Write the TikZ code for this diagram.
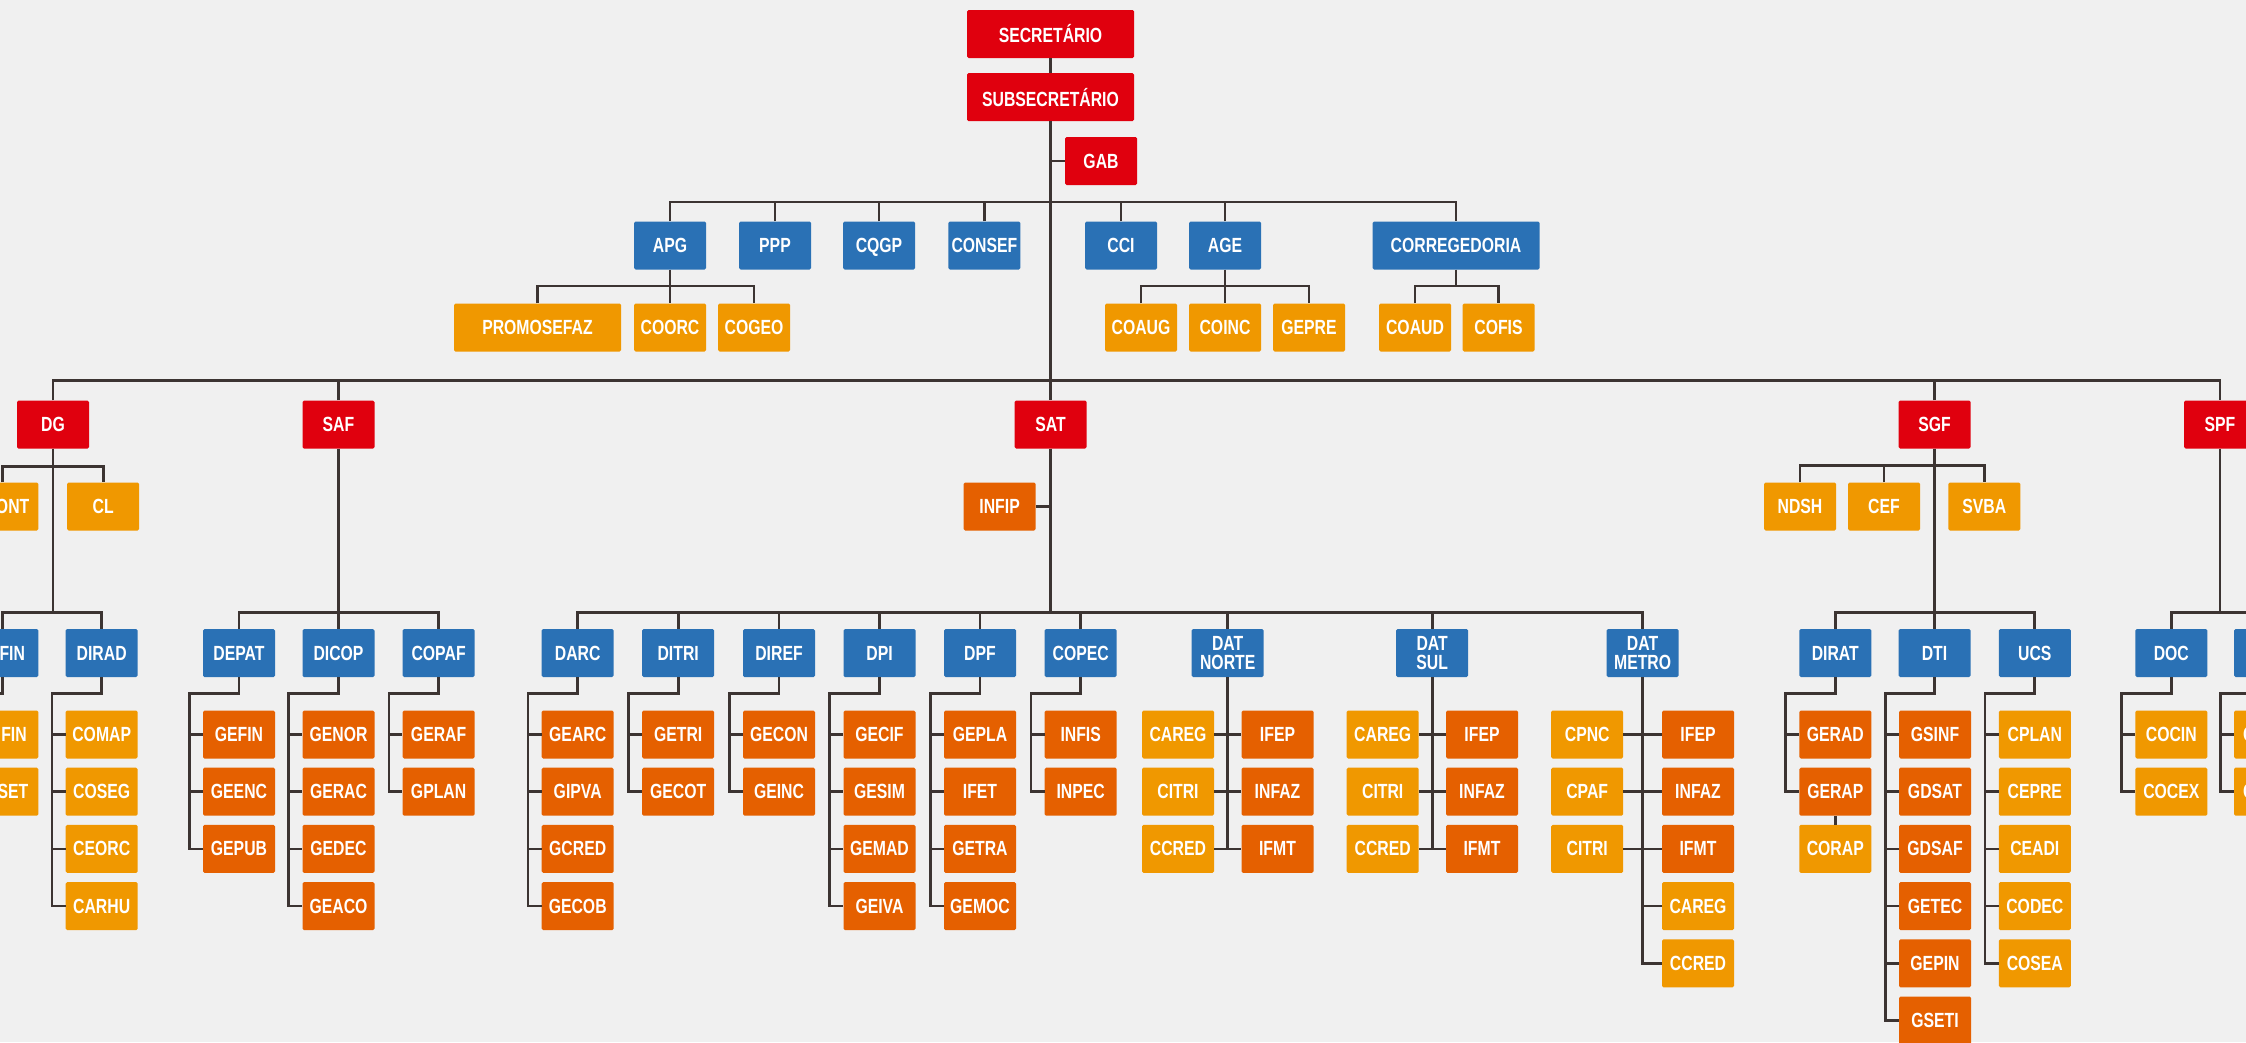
\documentclass[tikz,border=0pt]{standalone}
\usepackage{fontspec}
\setmainfont{Liberation Sans}[FakeStretch=0.77]
\definecolor{secred}{RGB}{224,0,14}
\definecolor{dirblue}{RGB}{42,113,181}
\definecolor{coorange}{RGB}{240,152,0}
\definecolor{gerorange}{RGB}{229,96,0}
\definecolor{linegray}{RGB}{60,52,50}
\definecolor{bgcol}{RGB}{240,240,240}
\tikzset{
  box/.style={rectangle, rounded corners=1.5pt, minimum width=72pt, minimum height=48pt, inner sep=0pt, align=center, text=white, font=\bfseries\fontsize{20.5}{19.6}\selectfont},
  wide/.style={minimum width=167pt},
  redbox/.style={box, fill=secred},
  bluebox/.style={box, fill=dirblue},
  darkbox/.style={box, fill=gerorange},
  lightbox/.style={box, fill=coorange},
  conn/.style={draw=linegray, line width=2.7pt}
}

\begin{document}
\begin{tikzpicture}[x=1pt, y=-1pt]
 \path[use as bounding box, fill=bgcol] (0,0) rectangle (2246,1042);
 \clip (0,0) rectangle (2246,1042);

 \node[redbox, wide] (sec) at (1050.5,34) {SECRETÁRIO};
 \node[redbox, wide] (subsec) at (1050.5,97.2) {SUBSECRETÁRIO};
 \node[redbox] (gab) at (1101,161) {GAB};

 \node[bluebox] (apg) at (670,245.5) {APG};
 \node[bluebox] (ppp) at (775,245.5) {PPP};
 \node[bluebox, text depth=0pt] (cqgp) at (879,245.5) {CQGP};
 \node[bluebox] (consef) at (984.4,245.5) {CONSEF};
 \node[bluebox] (cci) at (1121,245.5) {CCI};
 \node[bluebox] (age) at (1225,245.5) {AGE};
 \node[bluebox, wide] (correg) at (1456,245.5) {CORREGEDORIA};

 \node[lightbox, wide] (promosefaz) at (537.5,327.5) {PROMOSEFAZ};
 \node[lightbox] (coorc) at (670,327.5) {COORC};
 \node[lightbox] (cogeo) at (754,327.5) {COGEO};
 \node[lightbox] (coaug) at (1141,327.5) {COAUG};
 \node[lightbox] (coinc) at (1225,327.5) {COINC};
 \node[lightbox] (gepre) at (1309,327.5) {GEPRE};
 \node[lightbox] (coaud) at (1415,327.5) {COAUD};
 \node[lightbox] (cofis) at (1498.5,327.5) {COFIS};

 \node[redbox] (dg) at (53,424.5) {DG};
 \node[redbox] (saf) at (338.5,424.5) {SAF};
 \node[redbox] (sat) at (1050.5,424.5) {SAT};
 \node[redbox] (sgf) at (1934.5,424.5) {SGF};
 \node[redbox] (spf) at (2220,424.5) {SPF};

 \node[lightbox, text width=54pt, align=right] (cont) at (2.3,506.5) {ONT};
 \node[lightbox] (cl) at (103.2,506.5) {CL};
 \node[darkbox] (infip) at (999.6,506.5) {INFIP};
 \node[lightbox] (ndsh) at (1800,506.5) {NDSH};
 \node[lightbox] (cef) at (1884,506.5) {CEF};
 \node[lightbox] (svba) at (1984.3,506.5) {SVBA};

 \node[bluebox, text width=45.4pt, align=right] (difin) at (2.3,653) {FIN};
 \node[bluebox] (dirad) at (101.7,653) {DIRAD};
 \node[bluebox] (depat) at (239,653) {DEPAT};
 \node[bluebox] (dicop) at (338.5,653) {DICOP};
 \node[bluebox] (copaf) at (438.6,653) {COPAF};
 \node[bluebox] (darc) at (577.7,653) {DARC};
 \node[bluebox] (ditri) at (678.2,653) {DITRI};
 \node[bluebox] (diref) at (779,653) {DIREF};
 \node[bluebox] (dpi) at (879.5,653) {DPI};
 \node[bluebox] (dpf) at (980,653) {DPF};
 \node[bluebox] (copec) at (1080.7,653) {COPEC};
 \node[bluebox] (datnorte) at (1227.7,653) {DAT\\NORTE};
 \node[bluebox] (datsul) at (1432.2,653) {DAT\\SUL};
 \node[bluebox] (datmetro) at (1642.6,653) {DAT\\METRO};
 \node[bluebox] (dirat) at (1835.3,653) {DIRAT};
 \node[bluebox] (dti) at (1934.5,653) {DTI};
 \node[bluebox] (ucs) at (2034.8,653) {UCS};
 \node[bluebox] (doc) at (2171.3,653) {DOC};
 \node[bluebox] (spfb) at (2270,653) {};

 \node[lightbox, text width=48.8pt, align=right] (cofin) at (2.3,734.5) {FIN};
 \node[lightbox, text width=52pt, align=right] (coset) at (2.3,791.7) {SET};

 \node[lightbox] (comap) at (101.7,734.5) {COMAP};
 \node[lightbox] (coseg) at (101.7,791.7) {COSEG};
 \node[lightbox] (ceorc) at (101.7,848.9) {CEORC};
 \node[lightbox] (carhu) at (101.7,906.1) {CARHU};

 \node[darkbox] (gefin) at (239,734.5) {GEFIN};
 \node[darkbox] (geenc) at (239,791.7) {GEENC};
 \node[darkbox] (gepub) at (239,848.9) {GEPUB};

 \node[darkbox] (genor) at (338.5,734.5) {GENOR};
 \node[darkbox] (gerac) at (338.5,791.7) {GERAC};
 \node[darkbox] (gedec) at (338.5,848.9) {GEDEC};
 \node[darkbox] (geaco) at (338.5,906.1) {GEACO};

 \node[darkbox] (geraf) at (438.6,734.5) {GERAF};
 \node[darkbox] (gplan) at (438.6,791.7) {GPLAN};

 \node[darkbox] (gearc) at (577.7,734.5) {GEARC};
 \node[darkbox] (gipva) at (577.7,791.7) {GIPVA};
 \node[darkbox] (gcred) at (577.7,848.9) {GCRED};
 \node[darkbox] (gecob) at (577.7,906.1) {GECOB};

 \node[darkbox] (getri) at (678.2,734.5) {GETRI};
 \node[darkbox] (gecot) at (678.2,791.7) {GECOT};

 \node[darkbox] (gecon) at (779,734.5) {GECON};
 \node[darkbox] (geinc) at (779,791.7) {GEINC};

 \node[darkbox] (gecif) at (879.5,734.5) {GECIF};
 \node[darkbox] (gesim) at (879.5,791.7) {GESIM};
 \node[darkbox] (gemad) at (879.5,848.9) {GEMAD};
 \node[darkbox] (geiva) at (879.5,906.1) {GEIVA};

 \node[darkbox] (gepla) at (980,734.5) {GEPLA};
 \node[darkbox] (ifet) at (980,791.7) {IFET};
 \node[darkbox] (getra) at (980,848.9) {GETRA};
 \node[darkbox] (gemoc) at (980,906.1) {GEMOC};

 \node[darkbox] (infis) at (1080.7,734.5) {INFIS};
 \node[darkbox] (inpec) at (1080.7,791.7) {INPEC};

 \node[lightbox] (ncareg) at (1178,734.5) {CAREG};
 \node[lightbox] (ncitri) at (1178,791.7) {CITRI};
 \node[lightbox] (nccred) at (1178,848.9) {CCRED};
 \node[darkbox] (nifep) at (1277.5,734.5) {IFEP};
 \node[darkbox] (ninfaz) at (1277.5,791.7) {INFAZ};
 \node[darkbox] (nifmt) at (1277.5,848.9) {IFMT};

 \node[lightbox] (scareg) at (1382.7,734.5) {CAREG};
 \node[lightbox] (scitri) at (1382.7,791.7) {CITRI};
 \node[lightbox] (sccred) at (1382.7,848.9) {CCRED};
 \node[darkbox] (sifep) at (1482,734.5) {IFEP};
 \node[darkbox] (sinfaz) at (1482,791.7) {INFAZ};
 \node[darkbox] (sifmt) at (1482,848.9) {IFMT};

 \node[lightbox] (mcpnc) at (1587.2,734.5) {CPNC};
 \node[lightbox] (mcpaf) at (1587.2,791.7) {CPAF};
 \node[lightbox] (mcitri) at (1587.2,848.9) {CITRI};
 \node[darkbox] (mifep) at (1698,734.5) {IFEP};
 \node[darkbox] (minfaz) at (1698,791.7) {INFAZ};
 \node[darkbox] (mifmt) at (1698,848.9) {IFMT};
 \node[lightbox] (mcareg) at (1698,906.1) {CAREG};
 \node[lightbox] (mccred) at (1698,963.3) {CCRED};

 \node[darkbox] (gerad) at (1835.3,734.5) {GERAD};
 \node[darkbox] (gerap) at (1835.3,791.7) {GERAP};
 \node[lightbox] (corap) at (1835.3,848.9) {CORAP};

 \node[darkbox] (gsinf) at (1935,734.5) {GSINF};
 \node[darkbox] (gdsat) at (1935,791.7) {GDSAT};
 \node[darkbox] (gdsaf) at (1935,848.9) {GDSAF};
 \node[darkbox] (getec) at (1935,906.1) {GETEC};
 \node[darkbox] (gepin) at (1935,963.3) {GEPIN};
 \node[darkbox] (gseti) at (1935,1020.5) {GSETI};

 \node[lightbox] (cplan) at (2034.8,734.5) {CPLAN};
 \node[lightbox] (cepre) at (2034.8,791.7) {CEPRE};
 \node[lightbox] (ceadi) at (2034.8,848.9) {CEADI};
 \node[lightbox] (codec) at (2034.8,906.1) {CODEC};
 \node[lightbox] (cosea) at (2034.8,963.3) {COSEA};

 \node[lightbox] (cocin) at (2171.3,734.5) {COCIN};
 \node[lightbox] (cocex) at (2171.3,791.7) {COCEX};
 \node[lightbox, text width=54pt, align=left] (spfca) at (2270,734.5) {C};
 \node[lightbox, text width=54pt, align=left] (spfcb) at (2270,791.7) {C};

 \draw[conn] (sec.south) -- (subsec.north);
 \draw[conn] (subsec.south) -- (sat.north);
 \draw[conn] (gab.west) -- (gab.west -| subsec.south);
 \draw[conn] (apg.north) -- ++(0,-19.4) -| (correg.north);
 \draw[conn] (ppp.north) -- ++(0,-19.4);
 \draw[conn] (cqgp.north) -- ++(0,-19.4);
 \draw[conn] (consef.north) -- ++(0,-19.4);
 \draw[conn] (cci.north) -- ++(0,-19.4);
 \draw[conn] (age.north) -- ++(0,-19.4);
 \draw[conn] (apg.south) -- (coorc.north);
 \draw[conn] (promosefaz.north) -- ++(0,-17.3) -| (cogeo.north);
 \draw[conn] (age.south) -- (coinc.north);
 \draw[conn] (coaug.north) -- ++(0,-17.3) -| (gepre.north);
 \draw[conn] (correg.south) -- ++(0,16.7);
 \draw[conn] (coaud.north) -- ++(0,-17.3) -| (cofis.north);

 \draw[conn] (dg.north) -- ++(0,-19.5) -| (spf.north);
 \draw[conn] (saf.north) -- ++(0,-19.5);
 \draw[conn] (sgf.north) -- ++(0,-19.5);

 \draw[conn] (cont.north) -- ++(0,-16) -| (cl.north);
 \draw[conn] (dg.south) -- ++(0,164.2);
 \draw[conn] (difin.north) -- ++(0,-16.3) -| (dirad.north);
 \draw[conn] (difin.south) -- ++(0,16.2) -| ([xshift=-13.5pt]coset.west) -- (coset.west);
 \draw[conn] ([xshift=-13.5pt]cofin.west) -- (cofin.west);
 \draw[conn] (dirad.south) -- ++(0,16.2) -| ([xshift=-13.5pt]carhu.west) -- (carhu.west);
 \draw[conn] ([xshift=-13.5pt]comap.west) -- (comap.west);
 \draw[conn] ([xshift=-13.5pt]coseg.west) -- (coseg.west);
 \draw[conn] ([xshift=-13.5pt]ceorc.west) -- (ceorc.west);

 \draw[conn] (saf.south) -- (dicop.north);
 \draw[conn] (depat.north) -- ++(0,-16.3) -| (copaf.north);
 \draw[conn] (depat.south) -- ++(0,16.2) -| ([xshift=-13.5pt]gepub.west) -- (gepub.west);
 \draw[conn] ([xshift=-13.5pt]gefin.west) -- (gefin.west);
 \draw[conn] ([xshift=-13.5pt]geenc.west) -- (geenc.west);
 \draw[conn] (dicop.south) -- ++(0,16.2) -| ([xshift=-13.5pt]geaco.west) -- (geaco.west);
 \draw[conn] ([xshift=-13.5pt]genor.west) -- (genor.west);
 \draw[conn] ([xshift=-13.5pt]gerac.west) -- (gerac.west);
 \draw[conn] ([xshift=-13.5pt]gedec.west) -- (gedec.west);
 \draw[conn] (copaf.south) -- ++(0,16.2) -| ([xshift=-13.5pt]gplan.west) -- (gplan.west);
 \draw[conn] ([xshift=-13.5pt]geraf.west) -- (geraf.west);

 \draw[conn] (infip.east) -- (infip.east -| sat.south);
 \draw[conn] (sat.south) -- ++(0,164.2);
 \draw[conn] (darc.north) -- ++(0,-16.3) -| (datmetro.north);
 \draw[conn] (ditri.north) -- ++(0,-16.3);
 \draw[conn] (diref.north) -- ++(0,-16.3);
 \draw[conn] (dpi.north) -- ++(0,-16.3);
 \draw[conn] (dpf.north) -- ++(0,-16.3);
 \draw[conn] (copec.north) -- ++(0,-16.3);
 \draw[conn] (datnorte.north) -- ++(0,-16.3);
 \draw[conn] (datsul.north) -- ++(0,-16.3);
 \draw[conn] (darc.south) -- ++(0,16.2) -| ([xshift=-13.5pt]gecob.west) -- (gecob.west);
 \draw[conn] ([xshift=-13.5pt]gearc.west) -- (gearc.west);
 \draw[conn] ([xshift=-13.5pt]gipva.west) -- (gipva.west);
 \draw[conn] ([xshift=-13.5pt]gcred.west) -- (gcred.west);
 \draw[conn] (ditri.south) -- ++(0,16.2) -| ([xshift=-13.5pt]gecot.west) -- (gecot.west);
 \draw[conn] ([xshift=-13.5pt]getri.west) -- (getri.west);
 \draw[conn] (diref.south) -- ++(0,16.2) -| ([xshift=-13.5pt]geinc.west) -- (geinc.west);
 \draw[conn] ([xshift=-13.5pt]gecon.west) -- (gecon.west);
 \draw[conn] (dpi.south) -- ++(0,16.2) -| ([xshift=-13.5pt]geiva.west) -- (geiva.west);
 \draw[conn] ([xshift=-13.5pt]gecif.west) -- (gecif.west);
 \draw[conn] ([xshift=-13.5pt]gesim.west) -- (gesim.west);
 \draw[conn] ([xshift=-13.5pt]gemad.west) -- (gemad.west);
 \draw[conn] (dpf.south) -- ++(0,16.2) -| ([xshift=-13.5pt]gemoc.west) -- (gemoc.west);
 \draw[conn] ([xshift=-13.5pt]gepla.west) -- (gepla.west);
 \draw[conn] ([xshift=-13.5pt]ifet.west) -- (ifet.west);
 \draw[conn] ([xshift=-13.5pt]getra.west) -- (getra.west);
 \draw[conn] (copec.south) -- ++(0,16.2) -| ([xshift=-13.5pt]inpec.west) -- (inpec.west);
 \draw[conn] ([xshift=-13.5pt]infis.west) -- (infis.west);

 \draw[conn] (datnorte.south) -- (datnorte.south |- nccred.east);
 \draw[conn] (ncareg.east) -- (nifep.west);
 \draw[conn] (ncitri.east) -- (ninfaz.west);
 \draw[conn] (nccred.east) -- (nifmt.west);
 \draw[conn] (datsul.south) -- (datsul.south |- sccred.east);
 \draw[conn] (scareg.east) -- (sifep.west);
 \draw[conn] (scitri.east) -- (sinfaz.west);
 \draw[conn] (sccred.east) -- (sifmt.west);
 \draw[conn] (datmetro.south) |- (mccred.west);
 \draw[conn] (mcpnc.east) -- (mifep.west);
 \draw[conn] (mcpaf.east) -- (minfaz.west);
 \draw[conn] (mcitri.east) -- (mifmt.west);
 \draw[conn] (mcareg.west) -- (mcareg.west -| datmetro.south);

 \draw[conn] (ndsh.north) -- ++(0,-16.5) -| (svba.north);
 \draw[conn] (cef.north) -- ++(0,-16.5);
 \draw[conn] (sgf.south) -- (dti.north);
 \draw[conn] (dirat.north) -- ++(0,-16.3) -| (ucs.north);
 \draw[conn] (dirat.south) -- ++(0,16.2) -| ([xshift=-13.5pt]gerap.west) -- (gerap.west);
 \draw[conn] ([xshift=-13.5pt]gerad.west) -- (gerad.west);
 \draw[conn] (gerap.south) -- (corap.north);
 \draw[conn] (dti.south) -- ++(0,16.2) -| ([xshift=-13.5pt]gseti.west) -- (gseti.west);
 \draw[conn] ([xshift=-13.5pt]gsinf.west) -- (gsinf.west);
 \draw[conn] ([xshift=-13.5pt]gdsat.west) -- (gdsat.west);
 \draw[conn] ([xshift=-13.5pt]gdsaf.west) -- (gdsaf.west);
 \draw[conn] ([xshift=-13.5pt]getec.west) -- (getec.west);
 \draw[conn] ([xshift=-13.5pt]gepin.west) -- (gepin.west);
 \draw[conn] (ucs.south) -- ++(0,16.2) -| ([xshift=-13.5pt]cosea.west) -- (cosea.west);
 \draw[conn] ([xshift=-13.5pt]cplan.west) -- (cplan.west);
 \draw[conn] ([xshift=-13.5pt]cepre.west) -- (cepre.west);
 \draw[conn] ([xshift=-13.5pt]ceadi.west) -- (ceadi.west);
 \draw[conn] ([xshift=-13.5pt]codec.west) -- (codec.west);

 \draw[conn] (spf.south) -- ++(0,164.2);
 \draw[conn] (doc.north) -- ++(0,-16.3) -| (spfb.north);
 \draw[conn] (doc.south) -- ++(0,16.2) -| ([xshift=-13.5pt]cocex.west) -- (cocex.west);
 \draw[conn] ([xshift=-13.5pt]cocin.west) -- (cocin.west);
 \draw[conn] (spfb.south) -- ++(0,16.2) -| ([xshift=-13.5pt]spfcb.west) -- (spfcb.west);
 \draw[conn] ([xshift=-13.5pt]spfca.west) -- (spfca.west);
\end{tikzpicture}
\end{document}
